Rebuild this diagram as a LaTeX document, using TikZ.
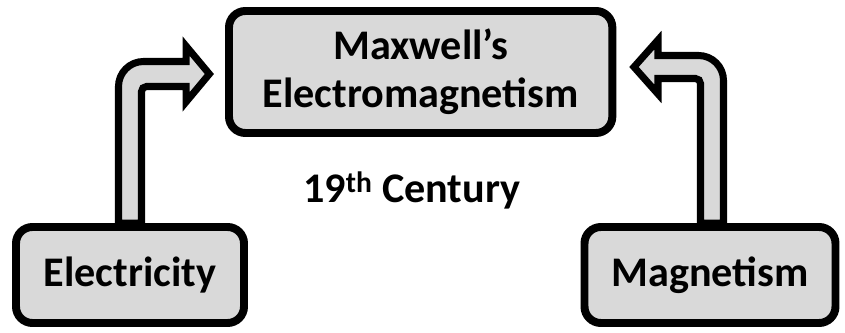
\documentclass[tikz,border=0pt]{standalone}
\usepackage{fontspec}
\setmainfont{Carlito}
\usepackage{xcolor}
\usepackage{tikz}
\usetikzlibrary{positioning, calc, backgrounds}
\definecolor{boxfill}{HTML}{D9D9D9}

\begin{document}
\begin{tikzpicture}[
    box/.style={draw, line width=6.8pt, rounded corners=14pt, fill=boxfill, align=center, inner sep=0pt, font=\fontsize{36}{41}\selectfont\bfseries},
    bentarrow/.style={draw, line width=6pt, fill=boxfill, miter limit=10},
]
    \useasboundingbox (0,0) rectangle (25.35,9.96);

    % Top box
    \node[box, minimum width=11.5cm, minimum height=3.66cm] (maxwell) at (12.62, 7.8) {Maxwell's\\Electromagnetism};

    % Bottom boxes
    \node[box, minimum width=6.84cm, minimum height=2.88cm] (elec) at (3.9, 1.71) {Electricity};
    \node[box, minimum width=7.53cm, minimum height=2.88cm] (magnet) at (21.3, 1.71) {Magnetism};

    % Era label
    \node[font=\fontsize{36}{41}\selectfont\bfseries, anchor=base] (century) at (12.35, 3.87) {19\textsuperscript{th} Century};

    % Bent arrows, behind the boxes
    \coordinate (lfoot) at (elec.north);
    \coordinate (ltip) at ([xshift=-0.47cm, yshift=-0.06cm]maxwell.west);
    \coordinate (rfoot) at ([xshift=0.06cm]magnet.north);
    \coordinate (rtip) at ([xshift=0.53cm, yshift=0.15cm]maxwell.east);
    \begin{scope}[on background layer]
        \draw[bentarrow] ($(lfoot)+(-0.345,0)$) -- ($(lfoot |- ltip)+(-0.345,-0.375)$)
            arc[start angle=180, end angle=90, radius=0.75]
            -- ($(ltip)+(-0.7,0.375)$) -- ($(ltip)+(-0.7,0.84)$) -- (ltip)
            -- ($(ltip)+(-0.7,-0.84)$) -- ($(ltip)+(-0.7,-0.375)$)
            -- ($(lfoot |- ltip)+(0.495,-0.375)$)
            arc[start angle=90, end angle=180, radius=0.15]
            -- ($(lfoot)+(0.345,0)$) -- cycle;
        \draw[bentarrow] ($(rfoot)+(0.345,0)$) -- ($(rfoot |- rtip)+(0.345,-0.405)$)
            arc[start angle=0, end angle=90, radius=0.75]
            -- ($(rtip)+(0.72,0.345)$) -- ($(rtip)+(0.72,0.81)$) -- (rtip)
            -- ($(rtip)+(0.72,-0.81)$) -- ($(rtip)+(0.72,-0.345)$)
            -- ($(rfoot |- rtip)+(-0.495,-0.345)$)
            arc[start angle=90, end angle=0, radius=0.15]
            -- ($(rfoot)+(-0.345,0)$) -- cycle;
    \end{scope}
\end{tikzpicture}
\end{document}
